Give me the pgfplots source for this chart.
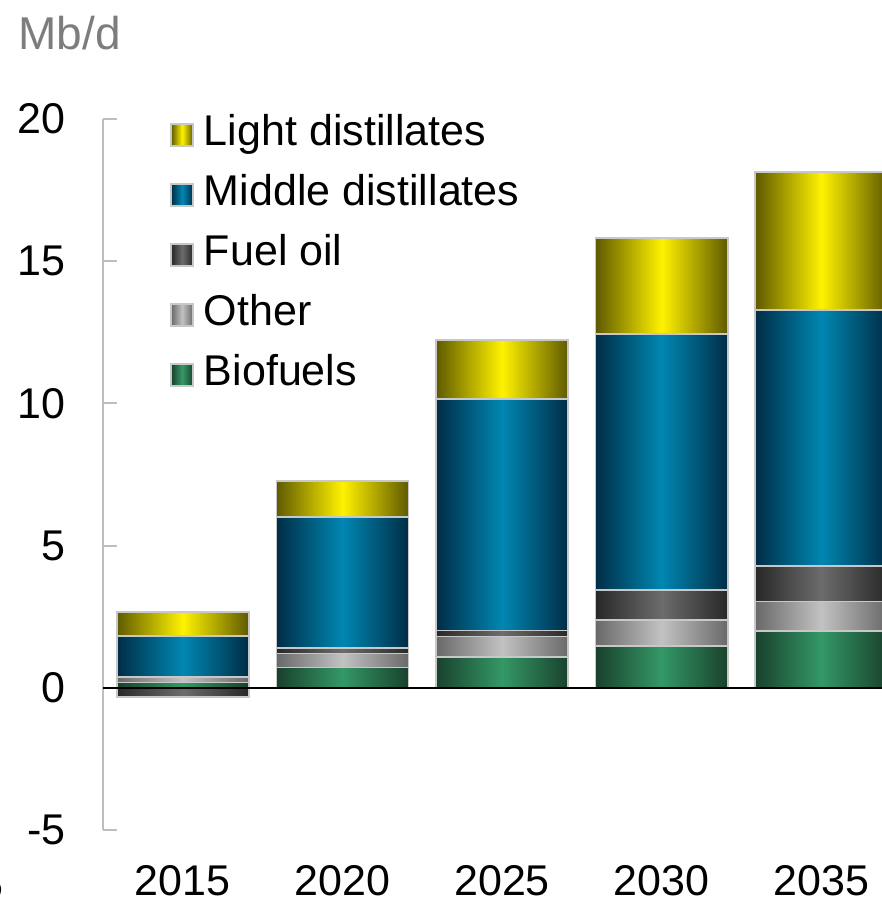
\documentclass[border=0pt]{standalone}
\usepackage{fontspec}
\setmainfont{Liberation Sans}
\usepackage{pgfplots}
\pgfplotsset{compat=1.18}

\definecolor{ldEdge}{RGB}{95,90,0}
\definecolor{ldMid}{RGB}{255,242,0}
\definecolor{mdEdge}{RGB}{0,45,70}
\definecolor{mdMid}{RGB}{0,135,178}
\definecolor{foEdge}{RGB}{40,40,40}
\definecolor{foMid}{RGB}{108,108,108}
\definecolor{otEdge}{RGB}{105,105,105}
\definecolor{otMid}{RGB}{194,194,194}
\definecolor{bfEdge}{RGB}{25,65,45}
\definecolor{bfMid}{RGB}{52,152,102}
\definecolor{barline}{RGB}{200,200,200}
\definecolor{axisgray}{RGB}{190,190,190}
\definecolor{unitgray}{RGB}{125,125,125}

\newcommand{\bigfont}{\fontsize{21.5}{24}\selectfont}

\pgfplotsset{
  base/.style={
    scale only axis, width=389.5pt, height=355.5pt,
    at={(0,0)}, anchor=south west,
    xmin=-0.5, xmax=4.38, ymin=-5, ymax=20,
    bar width=0.828,
  },
  shade/.style n args={2}{
    left color=#1, right color=#1, middle color=#2,
    draw=barline, line width=0.8pt,
    legend image code/.code={\draw[##1, line width=0.8pt] (0pt,-5.5pt) rectangle (11pt,5.5pt);},
  },
}

% one stacked bar per axis, so every bar gets its own shading
% #1 = x position, then Biofuels, Other, Fuel oil, Middle, Light (Mb/d)
\newcommand{\catbars}[6]{%
\begin{axis}[base, hide axis, ybar stacked]
\addplot[shade={bfEdge}{bfMid}] coordinates {(#1,#2)};
\addplot[shade={otEdge}{otMid}] coordinates {(#1,#3)};
\addplot[shade={foEdge}{foMid}] coordinates {(#1,#4)};
\addplot[shade={mdEdge}{mdMid}] coordinates {(#1,#5)};
\addplot[shade={ldEdge}{ldMid}] coordinates {(#1,#6)};
\end{axis}}

\begin{document}
\begin{tikzpicture}
\useasboundingbox (-51.5pt,-37pt) rectangle (389.5pt,415pt);

% negative fuel oil (2015), stacked apart below zero
\begin{axis}[base, hide axis, ybar]
\addplot[shade={foEdge}{foMid}] coordinates {(0,-0.33)};
\end{axis}

\catbars{0}{0.19}{0.18}{0}{1.46}{0.83}
\catbars{1}{0.72}{0.49}{0.18}{4.62}{1.26}
\catbars{2}{1.09}{0.72}{0.21}{8.13}{2.08}
\catbars{3}{1.48}{0.91}{1.05}{9.00}{3.37}
\catbars{4}{2.00}{1.04}{1.25}{8.99}{4.85}

\begin{axis}[base,
  axis y line*=left, axis x line*=bottom,
  y axis line style={-, draw=axisgray, line width=1pt},
  x axis line style={-, draw=none},
  tick align=inside, major tick length=7pt,
  ytick={-5,0,5,10,15,20},
  yticklabels={-5,0,5,10,15,20},
  ytick style={draw=axisgray, line width=1pt},
  yticklabel style={font=\bigfont, inner sep=0pt, xshift=-18.5pt},
  xtick={0,1,2,3,4},
  xticklabels={2015,2020,2025,2030,2035},
  xtick style={draw=none},
  xticklabel style={font=\bigfont, inner sep=0pt, text depth=0pt, yshift=-17.5pt},
  legend cell align=left,
  legend style={draw=none, fill=none, at={(0.086,1.008)}, anchor=north west,
    font=\bigfont, inner sep=0pt, row sep=9pt, column sep=5pt,
    nodes={inner sep=0pt, text height=16pt, text depth=5pt}},
]
\addlegendimage{shade={ldEdge}{ldMid}}
\addlegendentry{Light distillates}
\addlegendimage{shade={mdEdge}{mdMid}}
\addlegendentry{Middle distillates}
\addlegendimage{shade={foEdge}{foMid}}
\addlegendentry{Fuel oil}
\addlegendimage{shade={otEdge}{otMid}}
\addlegendentry{Other}
\addlegendimage{shade={bfEdge}{bfMid}}
\addlegendentry{Biofuels}
\draw[black, line width=1pt] (axis cs:-0.5,0) -- (axis cs:4.38,0);
\end{axis}

\node[anchor=base west, inner sep=0pt, text=unitgray, font=\fontsize{23}{26}\selectfont] at (-42.5pt,390pt) {Mb/d};
\node[anchor=east, inner sep=0pt, font=\bigfont] at (-49.5pt,-27.5pt) {5};
\end{tikzpicture}
\end{document}
